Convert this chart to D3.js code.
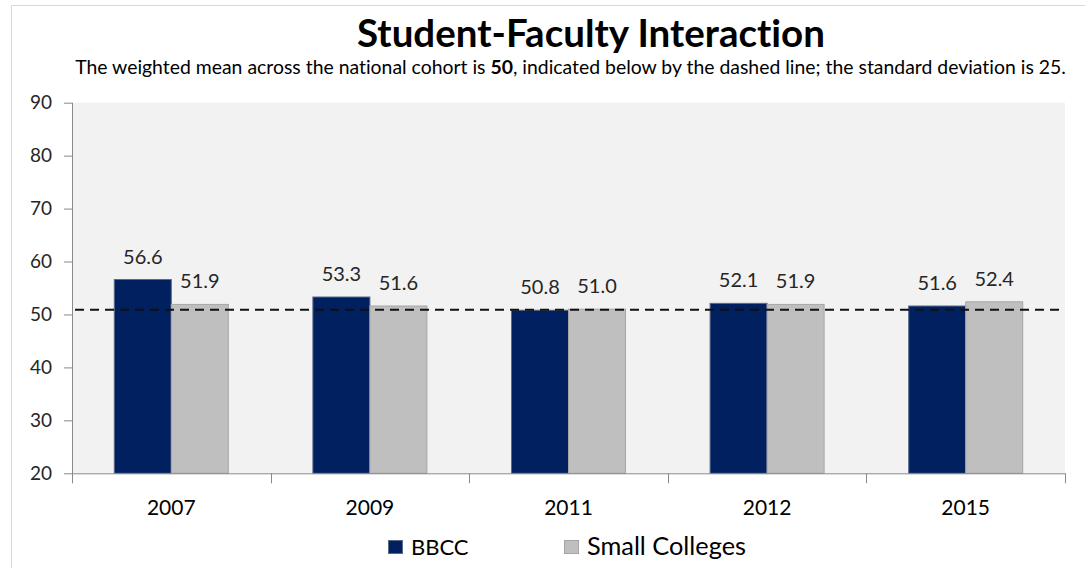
<!DOCTYPE html>
<html>
<head>
<meta charset="utf-8">
<script src="https://cdn.jsdelivr.net/npm/d3@7"></script>
<style>
  html, body { margin: 0; padding: 0; background: #fff; }
  svg { display: block; font-family: Lato, "Open Sans", sans-serif; font-variant-ligatures: none; font-feature-settings: "liga" 0, "clig" 0; }
</style>
</head>
<body>
<svg id="chart" width="1085" height="568"></svg>
<script>
// Survey years and scores for each group
const years = ["2007", "2009", "2011", "2012", "2015"];
const seriesNames = ["BBCC", "Small Colleges"];
const bbccValues = [56.6, 53.3, 50.8, 52.1, 51.6];
const smallCollegeValues = [51.9, 51.6, 51.0, 51.9, 52.4];
const yTicks = [20, 30, 40, 50, 60, 70, 80, 90];
const cohortLineValue = 50.9;

const seriesColors = { "BBCC": "#002060", "Small Colleges": "#BFBFBF" };
const seriesStrokes = { "BBCC": "#5a6a8a", "Small Colleges": "#A6A6A6" };

const rows = years.map((yr, i) => ({
  year: yr,
  values: [
    { key: "BBCC", value: bbccValues[i] },
    { key: "Small Colleges", value: smallCollegeValues[i] }
  ]
}));

const svg = d3.select("#chart");
const W = 1085, H = 568;
const plot = { left: 72, right: 1065, top: 102.7, bottom: 473.3 };

// Fit a text element's font size so its rendered width equals a target width
function fitWidth(sel, target) {
  const node = sel.node();
  const fs = parseFloat(sel.attr("font-size"));
  const w = node.getComputedTextLength();
  if (w > 0) sel.attr("font-size", (fs * target / w).toFixed(2));
}

svg.append("rect").attr("width", W).attr("height", H).attr("fill", "#fff");

// Chart frame
svg.append("path")
  .attr("d", `M11.5,${H} V5.5 H${W}`)
  .attr("fill", "none").attr("stroke", "#D9D9D9").attr("stroke-width", 1);

// Scales
const x0 = d3.scaleBand().domain(years).range([plot.left, plot.right]).padding(0);
const x1 = d3.scaleBand().domain(seriesNames).range([0, x0.bandwidth()])
  .paddingInner(0).paddingOuter(0.742);
const y = d3.scaleLinear().domain([20, 90]).range([plot.bottom, plot.top]);

// Plot background
svg.append("rect")
  .attr("x", plot.left).attr("y", plot.top)
  .attr("width", plot.right - plot.left).attr("height", plot.bottom - plot.top)
  .attr("fill", "#F2F2F2");

// Bars
const groups = svg.append("g").selectAll("g").data(rows).join("g")
  .attr("transform", d => `translate(${x0(d.year)},0)`);

groups.selectAll("rect").data(d => d.values).join("rect")
  .attr("x", d => x1(d.key))
  .attr("y", d => y(d.value))
  .attr("width", x1.bandwidth())
  .attr("height", d => y(20) - y(d.value))
  .attr("fill", d => seriesColors[d.key])
  .attr("stroke", d => seriesStrokes[d.key])
  .attr("stroke-width", 1);

// Value labels
groups.selectAll("text").data(d => d.values).join("text")
  .attr("x", d => x1(d.key) + x1.bandwidth() / 2)
  .attr("y", d => y(d.value) - 16)
  .attr("text-anchor", "middle")
  .attr("font-size", 20)
  .attr("fill", "#262626")
  .text(d => d.value.toFixed(1));

// Dashed cohort mean line
svg.append("line")
  .attr("x1", plot.left + 3).attr("x2", plot.right - 3)
  .attr("y1", y(cohortLineValue)).attr("y2", y(cohortLineValue))
  .attr("stroke", "#111").attr("stroke-width", 2)
  .attr("stroke-dasharray", "9,6");

// Y axis
const yAxis = svg.append("g")
  .attr("transform", `translate(${plot.left},0)`)
  .call(d3.axisLeft(y).tickValues(yTicks).tickSize(8).tickPadding(12).tickFormat(d3.format("d")));
yAxis.select(".domain").attr("stroke", "#898989").attr("d", `M0.5,${plot.top}V${plot.bottom + 9.5}`);
yAxis.selectAll(".tick line").attr("stroke", "#898989");
yAxis.selectAll(".tick text").attr("font-size", 19).attr("fill", "#262626")
  .attr("font-family", "Lato, sans-serif");

// X axis with ticks at category boundaries
const xAxis = svg.append("g").attr("transform", `translate(0,${plot.bottom})`);
xAxis.append("line")
  .attr("x1", plot.left).attr("x2", plot.right + 0.5)
  .attr("y1", 0.5).attr("y2", 0.5).attr("stroke", "#898989");
const boundaries = years.map(yr => x0(yr)).concat([x0(years[years.length - 1]) + x0.step()]);
xAxis.selectAll("line.bound").data(boundaries).join("line")
  .attr("class", "bound")
  .attr("x1", d => Math.round(d) + 0.5).attr("x2", d => Math.round(d) + 0.5)
  .attr("y1", 0).attr("y2", 10).attr("stroke", "#898989");
xAxis.selectAll("text").data(years).join("text")
  .attr("x", d => x0(d) + x0.bandwidth() / 2)
  .attr("y", 41.5)
  .attr("text-anchor", "middle")
  .attr("font-size", 21)
  .attr("fill", "#000")
  .text(d => d);

// Title and subtitle
const title = svg.append("text")
  .attr("x", 591).attr("y", 47)
  .attr("text-anchor", "middle")
  .attr("font-size", 33).attr("font-weight", 700).attr("fill", "#000")
  .text("Student-Faculty Interaction");
fitWidth(title, 468);

const sub = svg.append("text")
  .attr("x", 570.5).attr("y", 73.5)
  .attr("text-anchor", "middle")
  .attr("font-size", 17).attr("fill", "#000");
sub.append("tspan").text("The weighted mean across the national cohort is ");
sub.append("tspan").attr("font-weight", 700).text("50");
sub.append("tspan").text(", indicated below by the dashed line; the standard deviation is 25.");
fitWidth(sub, 991);

// Legend
const legendPos = [{ sx: 388, tx: 411 }, { sx: 564, tx: 587 }];
const legend = svg.append("g").selectAll("g").data(seriesNames).join("g");
legend.append("rect")
  .attr("x", (d, i) => legendPos[i].sx + 0.5).attr("y", 540.5)
  .attr("width", 14).attr("height", 13)
  .attr("fill", d => seriesColors[d]).attr("stroke", d => seriesStrokes[d]);
legend.append("text")
  .attr("x", (d, i) => legendPos[i].tx).attr("y", 555)
  .attr("font-size", 22).attr("fill", "#000")
  .text(d => d);
fitWidth(legend.filter((d, i) => i === 1).select("text"), 159);
</script>
</body>
</html>
